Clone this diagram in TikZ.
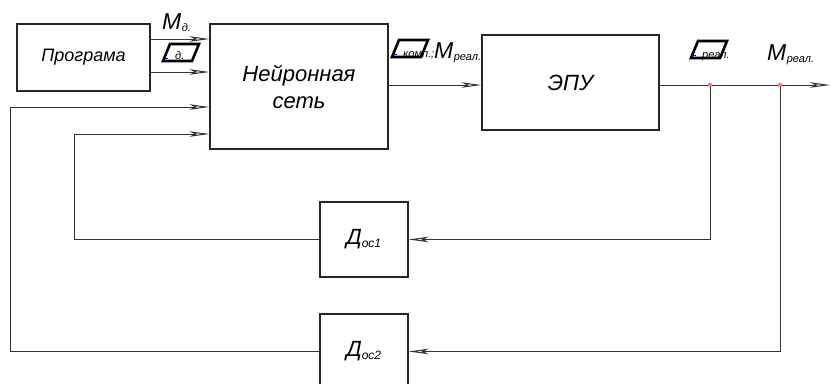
\documentclass[tikz,border=0pt]{standalone}
\usepackage{fontspec}
\setmainfont{Liberation Sans}
\usetikzlibrary{arrows.meta}
\begin{document}
\begin{tikzpicture}[x=1pt,y=-1pt,
  blk/.style={draw=black!85, line width=1.1pt, fill=white, inner sep=0pt, align=center},
  ln/.style={draw=black!80, line width=0.9pt},
  arr/.style={ln, -{Stealth[open, length=20pt, width=5.5pt, inset=5pt, line width=1pt]}},
  big/.style={font=\fontsize{22}{27}\selectfont\itshape},
  lbl/.style={font=\fontsize{23}{23}\selectfont\itshape, inner sep=0pt, anchor=base west},
  sub/.style={font=\fontsize{11}{11}\selectfont\itshape, inner sep=0pt, anchor=base west},
  pg/.pic={\draw[line width=2.6pt, line join=miter] (0,0) -- (29,0) -- (36,-17) -- (7,-17) -- cycle;
           \draw[blue, line width=1pt] (1,-3) -- (5,-3);}
]
\clip (0,0) rectangle (835,383);
\useasboundingbox (0,0) rectangle (835,383);

% boxes
\node[blk, minimum width=133pt, minimum height=67pt, font=\fontsize{18}{18}\selectfont\itshape] (prog) at (83.5,57.5)
  {Програма};
\node[blk, big, minimum width=178pt, minimum height=125pt] (nn) at (299,86.5)
  {Нейронная\\сеть};
\node[blk, big, minimum width=177pt, minimum height=95pt] (epu) at (570.5,82.5)
  {ЭПУ};
\node[blk, big, minimum width=88pt, minimum height=75pt] (d1) at (364,239.5)
  {Д\textsubscript{\fontsize{12}{12}\selectfont ос1}};
\node[blk, big, minimum width=88pt, minimum height=75pt] (d2) at (364,351.5)
  {Д\textsubscript{\fontsize{12}{12}\selectfont ос2}};

% coordinates
\coordinate (b1) at (710,85);
\coordinate (b2) at (780,85);
\coordinate (out) at (830,85);

% connectors
\draw[arr] (prog.east |- 0,39) -- (nn.west |- 0,39);
\draw[arr] (prog.east |- 0,72) -- (nn.west |- 0,72);
\draw[arr] (nn.east |- 0,85) -- (epu.west |- 0,85);
\draw[arr] (epu.east |- 0,85) -- (out);
\draw[arr] (b1) |- (d1.east);
\draw[arr] (b2) |- (d2.east);
\draw[arr] (d1.west) -- ++(-245,0) |- (nn.west |- 0,134);
\draw[arr] (d2.west) -- ++(-309,0) |- (nn.west |- 0,107);
\fill[red!55] (b1) circle (2.2pt);
\fill[red!55] (b2) circle (2.2pt);

% labels
\node[lbl] (lm) at (162,29) {M};
\node[sub] (lms) at (lm.base east) [yshift=-2pt] {д.};
\pic at (163,61) {pg};
\node[sub] (les) at (175,59) {д.};

\pic at (392,57) {pg};
\node[sub] (lk) at (403,57) {комп.;};
\node[lbl] (lm2) at (434,58) {M};
\node[sub] (lm2s) at (lm2.base east) [yshift=-2pt] {реал.};

\pic at (691,58) {pg};
\node[sub] (lr) at (702,58) {реал.};
\node[lbl] (lm3) at (767,60) {M};
\node[sub] (lm3s) at (lm3.base east) [yshift=-2pt] {реал.};
\end{tikzpicture}
\end{document}
